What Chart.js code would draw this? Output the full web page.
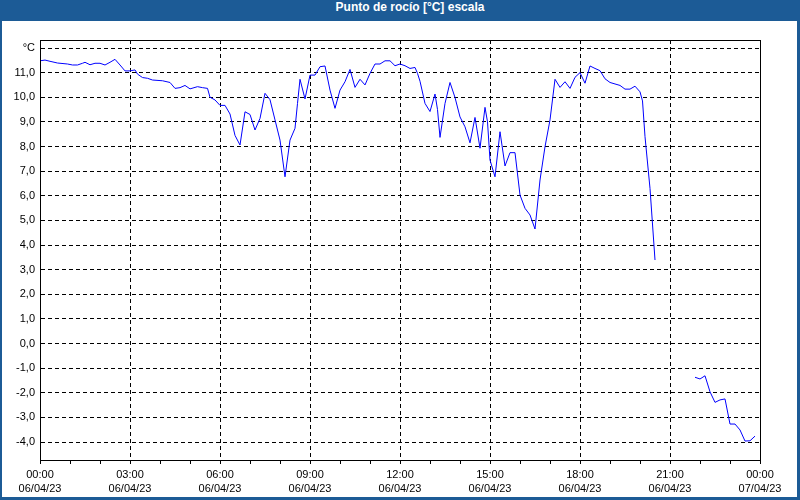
<!DOCTYPE html>
<html>
<head>
<meta charset="utf-8">
<script src="https://cdn.jsdelivr.net/npm/chart.js@4/dist/chart.umd.min.js"></script>
<style>
  html, body { margin: 0; padding: 0; background: #1c5b96; }
  #frame { position: relative; width: 800px; height: 500px; background: #1c5b96; overflow: hidden; }
  #title { position: absolute; left: 10px; top: 0; width: 800px; height: 21px; line-height: 21px;
           text-align: center; color: #ffffff; font: bold 12px "Liberation Sans", Arial, sans-serif; }
  #panel { position: absolute; left: 2px; top: 21px; width: 795px; height: 476px; background: #ffffff; }
  #wrap { position: absolute; left: 0; top: 0; width: 800px; height: 500px; }
</style>
</head>
<body>
<div id="frame">
  <div id="title">Punto de rocío [°C] escala</div>
  <div id="panel"></div>
  <div id="wrap"><canvas id="c" width="800" height="500"></canvas></div>
</div>
<script>
// Time of each reading (06/04/23) and dew point in °C; null = no data
const times = [
  "00:00","00:10","00:20","00:35","00:55","01:05","01:15","01:25","01:30","01:40",
  "01:50","02:00","02:10","02:20","02:30","02:40","02:50","03:00","03:10","03:15",
  "03:25","03:35","03:45","04:05","04:20","04:30","04:40","04:50","05:00","05:15",
  "05:25","05:35","05:40","05:50","06:00","06:10","06:20","06:30","06:40","06:50",
  "07:00","07:10","07:20","07:30","07:40","07:50","08:00","08:10","08:20","08:30",
  "08:35","08:40","08:50","09:00","09:10","09:20","09:30","09:40","09:50","10:00",
  "10:10","10:20","10:30","10:40","10:50","11:00","11:10","11:20","11:30","11:40",
  "11:50","12:00","12:10","12:20","12:30","12:35","12:40","12:50","13:00","13:10",
  "13:15","13:20","13:30","13:40","13:50","14:00","14:10","14:20","14:30","14:40",
  "14:50","14:55","15:00","15:10","15:20","15:30","15:40","15:50","16:00","16:10",
  "16:20","16:30","16:40","16:50","17:00","17:10","17:20","17:30","17:40","17:50",
  "18:00","18:10","18:20","18:30","18:40","18:50","19:00","19:10","19:20","19:30",
  "19:40","19:50","20:00","20:05","20:10","20:20","20:30","21:10","21:50","22:00",
  "22:10","22:20","22:30","22:40","22:50","23:00","23:10","23:20","23:30","23:40",
  "23:50"
];
const dewPoint = [
  11.48,11.51,11.46,11.39,11.35,11.31,11.31,11.38,11.42,11.32,
  11.38,11.38,11.31,11.42,11.54,11.31,11.07,11.07,11.11,10.94,
  10.80,10.77,10.70,10.67,10.60,10.36,10.39,10.48,10.34,10.43,
  10.39,10.36,10.00,9.89,9.67,9.67,9.32,8.45,8.06,9.41,
  9.30,8.67,9.14,10.16,9.90,9.08,8.26,6.77,8.26,8.74,
  9.75,10.73,9.93,10.90,10.90,11.24,11.27,10.29,9.55,10.29,
  10.63,11.13,10.40,10.73,10.50,10.97,11.35,11.35,11.48,11.48,
  11.28,11.35,11.28,11.17,11.21,10.97,10.65,9.75,9.42,10.13,
  9.50,8.37,9.75,10.60,9.99,9.20,8.80,8.15,9.18,7.93,
  9.59,9.00,7.45,6.77,8.60,7.21,7.75,7.75,6.03,5.49,
  5.22,4.65,6.64,7.99,9.08,10.73,10.40,10.63,10.36,10.81,
  11.00,10.57,11.27,11.17,11.08,10.75,10.60,10.54,10.48,10.33,
  10.33,10.45,10.22,9.85,8.40,6.30,3.39,null,-1.37,-1.44,
  -1.31,-1.96,-2.39,-2.29,-2.25,-3.27,-3.27,-3.51,-3.96,-3.95,
  -3.76
];
// Axis tick labels
const xTickTimes = ["00:00","03:00","06:00","09:00","12:00","15:00","18:00","21:00","00:00"];
const xTickDates = ["06/04/23","06/04/23","06/04/23","06/04/23","06/04/23","06/04/23","06/04/23","06/04/23","07/04/23"];
const yTickValues = [-4,-3,-2,-1,0,1,2,3,4,5,6,7,8,9,10,11,12];
const yUnitLabel = "°C";

const toMin = s => { const [h, m] = s.split(":").map(Number); return h * 60 + m; };
const points = times.map((t, i) => ({ x: toMin(t), y: dewPoint[i] }));

const frameBox = {
  id: 'frameBox',
  afterDraw(chart) {
    const a = chart.chartArea, ctx = chart.ctx;
    ctx.save();
    ctx.strokeStyle = '#000';
    ctx.lineWidth = 1;
    ctx.setLineDash([]);
    ctx.strokeRect(Math.round(a.left) + 0.5, Math.round(a.top) + 0.5,
                   Math.round(a.right - a.left), Math.round(a.bottom - a.top));
    ctx.restore();
  }
};

const font = { family: '"Liberation Sans", Arial, sans-serif', size: 11, lineHeight: 1.3 };

new Chart(document.getElementById('c'), {
  type: 'line',
  data: {
    datasets: [{
      data: points,
      borderColor: '#0000ff',
      borderWidth: 1,
      pointRadius: 0,
      tension: 0,
      spanGaps: false,
      fill: false
    }]
  },
  options: {
    responsive: false,
    animation: false,
    devicePixelRatio: 1,
    layout: { padding: { left: 0, top: 40, right: 40, bottom: 0 } },
    plugins: { legend: { display: false }, tooltip: { enabled: false }, title: { display: false } },
    scales: {
      x: {
        type: 'linear',
        min: 0,
        max: 1440,
        afterFit(s) { s.height = 40; },
        afterBuildTicks(s) {
          const t = [];
          for (let v = 0; v <= 1440; v += 60) t.push({ value: v });
          s.ticks = t;
        },
        ticks: {
          autoSkip: false,
          maxRotation: 0,
          minRotation: 0,
          padding: 4,
          color: '#000',
          font,
          callback(v) {
            if (v % 180 !== 0) return '';
            const i = v / 180;
            return [xTickTimes[i], xTickDates[i]];
          }
        },
        grid: {
          drawOnChartArea: true,
          drawTicks: true,
          tickLength: 4,
          lineWidth: 1,
          color: ctx => (ctx.tick && ctx.tick.value % 180 === 0) ? '#000' : 'rgba(0,0,0,0)',
          tickColor: '#000'
        },
        border: { display: true, color: '#000', width: 1, dash: [4, 3] }
      },
      y: {
        type: 'linear',
        min: -4.73,
        max: 12.325,
        afterFit(s) { s.width = 40; },
        afterBuildTicks(s) { s.ticks = yTickValues.map(v => ({ value: v })); },
        ticks: {
          padding: 5,
          color: '#000',
          font,
          callback(v) { return v === 12 ? yUnitLabel : v.toFixed(1).replace('.', ','); }
        },
        grid: {
          drawOnChartArea: true,
          drawTicks: false,
          color: '#000',
          lineWidth: 1
        },
        border: { display: true, color: '#000', width: 1, dash: [4, 3] }
      }
    }
  },
  plugins: [frameBox]
});
</script>
</body>
</html>
